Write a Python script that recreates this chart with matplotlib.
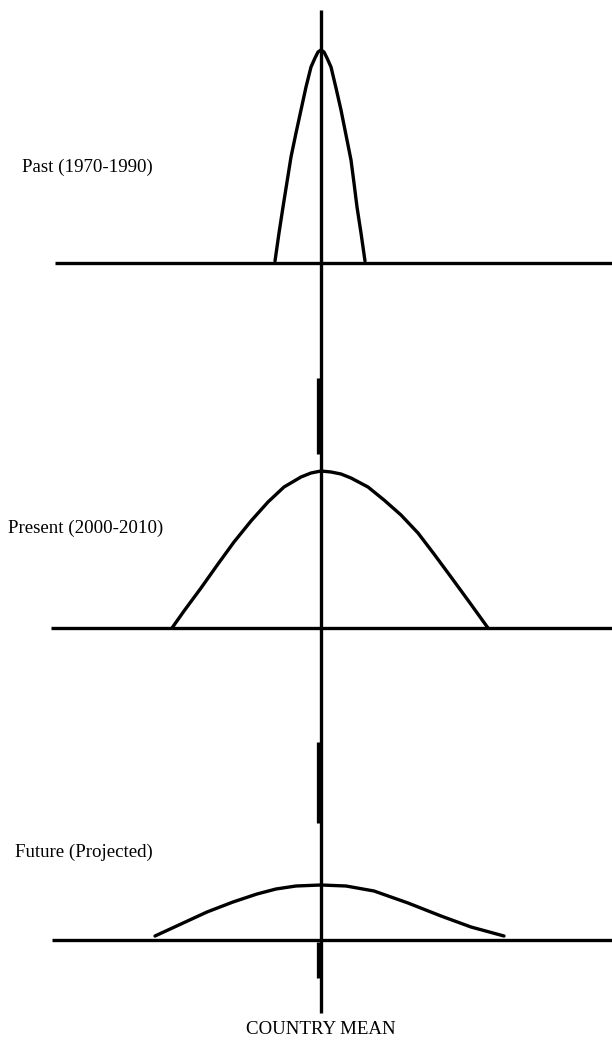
import matplotlib.pyplot as plt

# Positions on the sketch (pixel units, y grows downward)
srednia_x = 321          # "country mean" vertical line
bazy = [263, 628, 940]   # baselines for Past / Present / Future

etykiety = ["Past (1970-1990)", "Present (2000-2010)", "Future (Projected)"]

# Curves: offset from the mean and height above the baseline
past_dx = [-46, -42, -38, -34, -30, -25, -20, -15, -10, -6, -3, 0, 3, 6, 10, 15, 20, 25, 30, 33, 36, 40, 44]
past_h = [2, 30, 56, 81, 106, 130, 153, 176, 196, 205, 211, 213, 211, 205, 196, 175, 153, 128, 103, 80, 56, 30, 2]

present_dx = [-149, -137, -120, -103, -87, -70, -53, -37, -20, -10, 0, 10, 20, 30, 47, 63, 80, 97, 113, 130, 149, 167]
present_h = [0, 17, 40, 64, 86, 107, 126, 141, 151, 155, 157, 156, 154, 150, 141, 128, 113, 95, 74, 51, 25, 0]

future_dx = [-166, -140, -114, -88, -64, -45, -25, 0, 25, 53, 87, 120, 150, 183]
future_h = [4, 16, 28, 38, 46, 51, 54, 55, 54, 49, 37, 24, 13, 4]

krzywe = [(past_dx, past_h), (present_dx, present_h), (future_dx, future_h)]

# Horizontal baselines start here and run to the right edge
start_linii = [55, 51, 52]
pozycje_etykiet = [(22, 167), (8, 528), (15, 852)]

# Thicker pieces of the vertical line (top, bottom)
grube = [(378, 454), (742, 823), (942, 978)]

fig = plt.figure(figsize=(6.12, 10.41), dpi=100)
ax = fig.add_axes([0, 0, 1, 1])
ax.set_xlim(0, 612)
ax.set_ylim(1041, 0)
ax.axis("off")

lw = 2.4

# pionowa linia - srednia kraju
ax.plot([srednia_x, srednia_x], [10, 1013], color="black", lw=lw, solid_capstyle="butt")
for g0, g1 in grube:
    ax.plot([srednia_x - 2, srednia_x - 2], [g0, g1], color="black", lw=lw + 1.4, solid_capstyle="butt")

for baza, x0, (dx, h) in zip(bazy, start_linii, krzywe):
    ax.plot([x0, 612], [baza, baza], color="black", lw=lw, solid_capstyle="butt")
    xs = [srednia_x + d for d in dx]
    ys = [baza - v for v in h]
    ax.plot(xs, ys, color="black", lw=lw, solid_joinstyle="round", solid_capstyle="round")

for txt, (tx, ty) in zip(etykiety, pozycje_etykiet):
    ax.text(tx, ty, txt, fontsize=13.6, family="Liberation Serif", va="center", ha="left")

ax.text(srednia_x, 1030, "COUNTRY MEAN", fontsize=13.6, family="Liberation Serif", va="center", ha="center")

fig.savefig("out.png", dpi=100)
